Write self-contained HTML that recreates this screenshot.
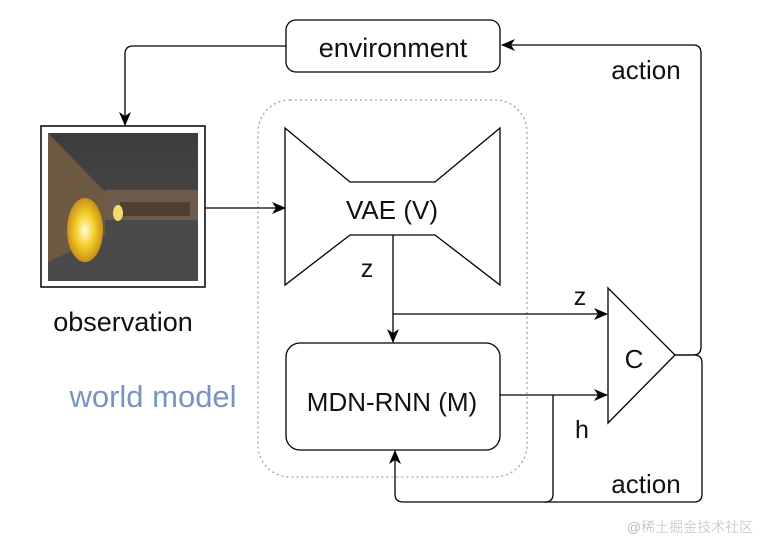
<!DOCTYPE html>
<html><head><style>
body{margin:0;background:#fff;}
svg text{font-family:"Liberation Sans",sans-serif;fill:#111;font-weight:300;}
</style></head><body>
<svg width="764" height="542" viewBox="0 0 764 542" xmlns="http://www.w3.org/2000/svg">
<defs>
<marker id="a" markerWidth="14" markerHeight="12" refX="13" refY="6" orient="auto" markerUnits="userSpaceOnUse"><path d="M0,0 L14,6 L0,12 L4,6 z" fill="#000"/></marker>
<radialGradient id="g" cx="0.5" cy="0.5" r="0.5"><stop offset="0" stop-color="#fffbe0"/><stop offset="0.5" stop-color="#f7d02a"/><stop offset="1" stop-color="#c8901a"/></radialGradient>
<linearGradient id="fl" x1="0" y1="0" x2="0" y2="1"><stop offset="0" stop-color="#3c3c3c"/><stop offset="1" stop-color="#505050"/></linearGradient>
</defs>
<rect x="258" y="100" width="269" height="377" rx="32" fill="none" stroke="#8fa5c8" stroke-width="1.3" stroke-dasharray="2,3"/>
<rect x="286" y="20" width="214" height="52" rx="10" fill="#fff" stroke="#000" stroke-width="1.3"/>
<text x="393" y="57" font-size="27" text-anchor="middle">environment</text>
<rect x="41" y="126" width="164" height="161" fill="#fff" stroke="#000" stroke-width="1.5"/>
<rect x="48" y="133" width="150" height="148" fill="url(#fl)"/>
<rect x="48" y="192" width="150" height="89" fill="#4a4a4a"/>
<polygon points="48,133 105,192 105,235 48,262" fill="#6e5a43"/>
<rect x="105" y="190" width="93" height="30" fill="#6e5b4c"/>
<rect x="120" y="202" width="70" height="14" fill="#3a2e26" opacity="0.6"/>
<ellipse cx="85" cy="230" rx="18" ry="32" fill="url(#g)"/>
<ellipse cx="118" cy="213" rx="5" ry="8" fill="#f3da6a"/>
<text x="123" y="331" font-size="27" text-anchor="middle">observation</text>
<text x="153" y="407" font-size="31" text-anchor="middle" style="fill:#7b93c0">world model</text>
<polygon points="285,128 350,182 435,182 500,128 500,285 435,235 350,235 285,285" fill="#fff" stroke="#000" stroke-width="1.3"/>
<text x="392" y="219" font-size="26" text-anchor="middle">VAE (V)</text>
<rect x="286" y="343" width="214" height="107" rx="14" fill="#fff" stroke="#000" stroke-width="1.3"/>
<text x="392" y="411" font-size="26" text-anchor="middle">MDN-RNN (M)</text>
<polygon points="608,288 608,423 675,355" fill="#fff" stroke="#000" stroke-width="1.3"/>
<text x="634" y="368" font-size="26" text-anchor="middle">C</text>
<g fill="none" stroke="#000" stroke-width="1.3">
<path d="M286,46 H133 Q125,46 125,54 V125" marker-end="url(#a)"/>
<path d="M205,208 H285" marker-end="url(#a)"/>
<path d="M393,235 V342" marker-end="url(#a)"/>
<path d="M393,314 H607" marker-end="url(#a)"/>
<path d="M500,395 H607" marker-end="url(#a)"/>
<path d="M675,355 H693 Q701,355 701,347 V53 Q701,45 693,45 H502" marker-end="url(#a)"/>
<path d="M675,355 H694 Q702,355 702,363 V494 Q702,502 694,502 H403 Q395,502 395,494 V451" marker-end="url(#a)"/>
<path d="M553,395 V494 Q553,502 545,502"/>
</g>
<text x="367" y="277" font-size="25" text-anchor="middle">z</text>
<text x="580" y="305" font-size="25" text-anchor="middle">z</text>
<text x="582" y="438" font-size="25" text-anchor="middle">h</text>
<text x="646" y="79" font-size="26" text-anchor="middle">action</text>
<text x="646" y="493" font-size="26" text-anchor="middle">action</text>
<text x="690" y="532" font-size="14" text-anchor="middle" style="fill:#bbb;font-family:'Liberation Sans','Noto Sans CJK SC',sans-serif">@稀土掘金技术社区</text>
</svg>
</body></html>
